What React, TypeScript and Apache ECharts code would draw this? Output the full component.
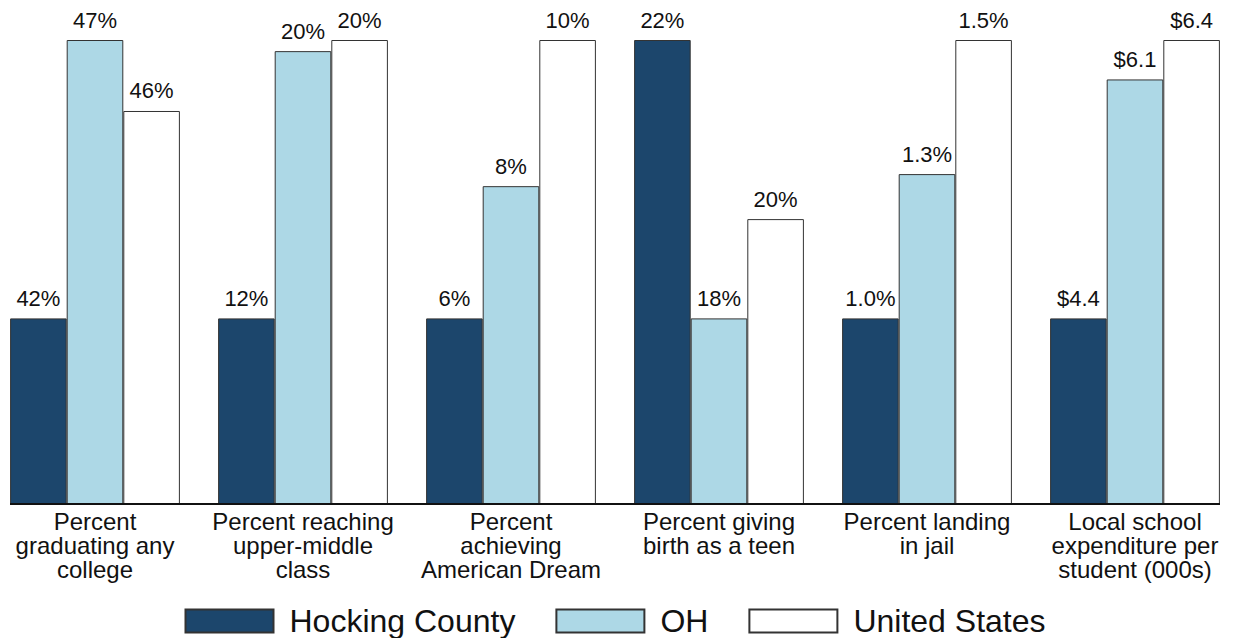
import React, { useEffect, useRef } from "react";
import * as echarts from "echarts";

const categories = [
  "Percent\ngraduating any\ncollege",
  "Percent reaching\nupper-middle\nclass",
  "Percent\nachieving\nAmerican Dream",
  "Percent giving\nbirth as a teen",
  "Percent landing\nin jail",
  "Local school\nexpenditure per\nstudent (000s)",
];

const seriesNames = ["Hocking County", "OH", "United States"];

// Relative bar heights (each group scaled so its largest bar is 1)
const hockingHeights = [0.4, 0.4, 0.4, 1.0, 0.4, 0.4];
const ohHeights = [1.0, 0.976, 0.685, 0.4, 0.711, 0.915];
const usHeights = [0.847, 1.0, 1.0, 0.614, 1.0, 1.0];

// Displayed value labels
const hockingLabels = ["42%", "12%", "6%", "22%", "1.0%", "$4.4"];
const ohLabels = ["47%", "20%", "8%", "18%", "1.3%", "$6.1"];
const usLabels = ["46%", "20%", "10%", "20%", "1.5%", "$6.4"];

const colors = ["#1c466c", "#add8e6", "#ffffff"];

const FONT = "'Liberation Sans', Arial, Helvetica, sans-serif";

export default function App() {
  const ref = useRef<HTMLDivElement>(null);

  useEffect(() => {
    if (!ref.current) return;
    const chart = echarts.init(ref.current, null, { renderer: "svg" });

    const heights = [hockingHeights, ohHeights, usHeights];
    const labels = [hockingLabels, ohLabels, usLabels];

    const series = seriesNames.map((name, si) => ({
      name,
      type: "bar",
      barWidth: 56.6,
      barGap: "0%",
      data: heights[si],
      itemStyle: {
        color: colors[si],
        borderColor: "#333333",
        borderWidth: 1,
      },
      label: {
        show: true,
        position: "top",
        distance: 9,
        fontSize: 22,
        fontFamily: FONT,
        color: "#111111",
        formatter: (p: any) => labels[si][p.dataIndex],
      },
    }));

    chart.setOption({
      animation: false,
      backgroundColor: "#ffffff",
      grid: { left: 0, right: 0, top: 40, bottom: 134, containLabel: false },
      xAxis: {
        type: "category",
        data: categories,
        axisLine: { show: false },
        axisTick: { show: false },
        axisLabel: {
          interval: 0,
          fontSize: 24,
          lineHeight: 24,
          margin: 5,
          color: "#111111",
          fontFamily: FONT,
          align: "center",
        },
      },
      yAxis: {
        type: "value",
        min: 0,
        max: 1,
        show: false,
        splitLine: { show: false },
      },
      legend: {
        data: seriesNames,
        left: "center",
        top: 605,
        padding: 0,
        itemWidth: 88,
        itemHeight: 23,
        itemGap: 40,
        icon: "rect",
        textStyle: {
          fontSize: 32,
          fontFamily: FONT,
          color: "#111111",
          padding: [0, 0, 0, 11],
        },
      },
      graphic: [
        {
          type: "line",
          shape: { x1: 19, y1: 504, x2: 1229, y2: 504 },
          style: { stroke: "#111111", lineWidth: 2 },
          z: 100,
        },
      ],
      series,
    });

    return () => chart.dispose();
  }, []);

  return (
    <div
      style={{
        position: "absolute",
        left: 0,
        top: 0,
        width: 1234,
        height: 638,
        overflow: "hidden",
        background: "#ffffff",
      }}
    >
      <div
        ref={ref}
        style={{ position: "absolute", left: -9.5, top: 0, width: 1248, height: 638 }}
      />
    </div>
  );
}
